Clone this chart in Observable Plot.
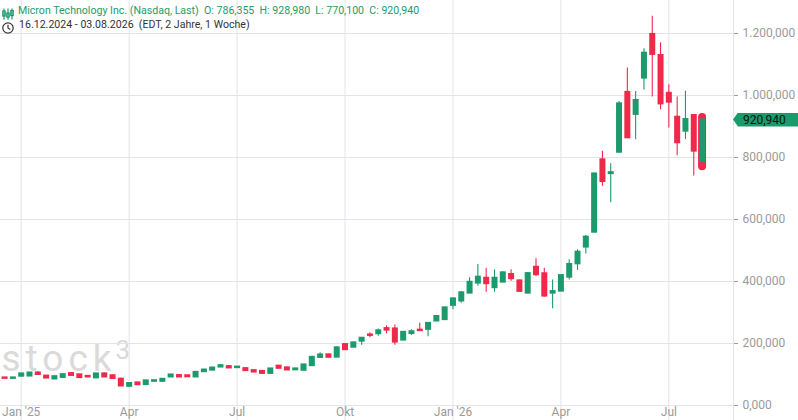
<!DOCTYPE html>
<html><head><meta charset="utf-8">
<script src="https://cdn.jsdelivr.net/npm/d3@7"></script>
<script src="https://cdn.jsdelivr.net/npm/@observablehq/plot@0.6"></script>
<style>
html,body{margin:0;padding:0;background:#fff;}
#wrap{position:relative;width:798px;height:420px;overflow:hidden;font-family:Roboto,"Noto Sans",sans-serif;}
.hl{position:absolute;white-space:pre;font-size:10.6px;line-height:14px;}
#t1{left:18px;top:4px;color:#1f9a6c;}
#t2{left:19px;top:18px;color:#333;}
.ic{position:absolute;}
#price{position:absolute;left:733px;width:65px;height:14px;background:#1b9a6b;color:#111;font-size:12px;line-height:14px;padding-left:10px;box-sizing:border-box;clip-path:polygon(0 50%,5px 0,100% 0,100% 100%,5px 100%);}
</style></head><body><div id="wrap"></div>
<script>
// ---- data (weekly candles starting Monday 16.12.2024) ----
const startDate = "2024-12-16";
const opens  = [89,87.5,94.5,95,105,95,85.5,90.5,103,99,94,89,102,96,85,62,73,67.5,78,78,92,96.5,96,92,109,114,124,125.5,122,119,112.5,110,103.5,127,121.5,115,113.5,128.5,155,163.5,156,196.5,188,207.5,227.5,231.5,248,247,211,232,243,245.5,272.5,277,323,337,362.5,395,410.5,380,398,422.5,402,362.5,446,425,362.5,369,414,457,511,559,792.5,748,817,1010,939,1056,1197,1129,1007,930,885,935.5,786.355];
const highs  = [90,90,104,106,109,96,95,101,105,100,95,103,104,98,88,73,74,81,81.5,86,100,98,97,108,116,122.5,132,127,125,120,114,111,119,129,123,120,132,157,170,165,188,199,204,219,234.5,247,257,260,238,244,265,267,289,317,346,367.5,412,455,443,437.5,431,438,404,428,473,443,405,421,470,502,548,749,820,780,981,1089,1013,1151,1256,1170,1035,995,1014,936,928.98];
const lows   = [86.5,86.5,93,94,99,87,84,89,96,89,90,88,91,86,61,58,66,66,77,77,91,91,91,91,108,113,123,120,121,111,107,102,102,118,113,114,113,128,154,154,155,178,187,194,218.5,223,231,194,209,226,241,222,271,276,309,330,361,385,365,365.5,396,401,366,360,416,349,312,367,405,435.5,489,557,707,654,815,862,857,1018,995,954,895,806,858,740,770.1];
const closes = [87.5,89,102,105,100,88.5,93,99.5,97,90,92,102,92,87,63,71,67,79.5,80,84.5,98.5,92,92.5,107,114.5,121,128.5,121,124,112.5,108,103.5,118,120,114.5,118,131,155.5,163,155.5,186,180,202,217,226,241,243,204.5,236,238,241.5,265,287,315,344,363.5,397.5,414,393,410.5,428,409,368,425.5,422,353,367.5,419,455,494.5,543,747,722.5,751,973,863.5,984,1136.5,1132.5,973,978.5,847.5,922.5,820.5,920.94];
const xTickDates  = ["2024-12-30","2025-03-31","2025-06-30","2025-09-29","2025-12-29","2026-03-30","2026-06-29"];
const xTickLabels = ["Jan '25","Apr","Jul","Okt","Jan '26","Apr","Jul"];
const yTicks = [0,200,400,600,800,1000,1200];
const titleText = "Micron Technology Inc. (Nasdaq, Last)";
const subtitleText = "16.12.2024 - 03.08.2026  (EDT, 2 Jahre, 1 Woche)";

// ---- helpers ----
const GREEN = "#1b9a6b", RED = "#f0284a", GRID = "#e3e4ea";
const de = d3.formatLocale({decimal: ",", thousands: ".", grouping: [3], currency: ["", ""]});
const fmt = de.format(",.3f");
const start = new Date(startDate);
const data = opens.map((o, i) => ({
  date: d3.utcDay.offset(start, 7 * i),
  open: o, high: highs[i], low: lows[i], close: closes[i],
  up: closes[i] >= o
}));
const last = data[data.length - 1];
const xTicks = xTickDates.map(d => new Date(d));
const labelMap = new Map(xTicks.map((d, i) => [+d, xTickLabels[i]]));
const DAY = 864e5, anchor = new Date("2024-12-30");

const chart = Plot.plot({
  width: 798, height: 420,
  marginTop: 0, marginLeft: 0, marginRight: 65, marginBottom: 15,
  style: {fontFamily: "Roboto, 'Noto Sans', sans-serif", fontSize: "12px", background: "transparent", overflow: "visible"},
  x: {type: "utc", domain: [new Date(+anchor - 17.45 * DAY), new Date(+anchor + 600.5 * DAY)]},
  y: {domain: [0, 1306.45]},
  color: {type: "identity"},
  marks: [
    Plot.text(["stock"], {frameAnchor: "bottom-left", dx: 1, dy: -35, text: d => d, fontSize: 37, fontWeight: 400, fill: "#dadada", textAnchor: "start", lineAnchor: "bottom"}),
    Plot.text(["3"], {frameAnchor: "bottom-left", dx: 115, dy: -46.5, text: d => d, fontSize: 26, fontWeight: 400, fill: "#dadada", textAnchor: "start", lineAnchor: "bottom"}),
    Plot.ruleY(yTicks, {stroke: GRID, strokeWidth: 1}),
    Plot.ruleX(xTicks, {x: d => d, stroke: GRID, strokeWidth: 1, insetBottom: -15}),
    Plot.frame({anchor: "right", stroke: GRID, insetBottom: -15}),
    Plot.axisY({anchor: "right", ticks: yTicks, tickFormat: fmt, tickSize: 4, tickPadding: 5, color: "#9a9a9a", label: null, fontSize: 12}),
    Plot.axisX({ticks: xTicks, tickFormat: d => labelMap.get(+d), tickSize: 0, tickPadding: 2, color: "#9a9a9a", label: null, fontSize: 12}),
    Plot.ruleX(data, {x: "date", y1: "low", y2: "high", stroke: d => d.up ? GREEN : RED, strokeWidth: 1.1}),
    Plot.ruleX([last], {x: "date", y1: "low", y2: "high", stroke: RED, strokeWidth: 8, strokeLinecap: "round"}),
    Plot.ruleX(data, {x: "date", y1: d => Math.max(d.open, d.close), y2: d => Math.min(d.open, d.close), stroke: d => d.up ? GREEN : RED, strokeWidth: 6, insetTop: -1, insetBottom: -1})
  ]
});

const wrap = document.getElementById("wrap");
wrap.appendChild(chart);
d3.select(chart).selectAll("text").filter(function(){ return this.textContent === "stock"; }).style("letter-spacing", "5px");

// header
const t1 = document.createElement("div");
t1.className = "hl"; t1.id = "t1";
t1.textContent = `${titleText}  O: ${fmt(last.open)}  H: ${fmt(last.high)}  L: ${fmt(last.low)}  C: ${fmt(last.close)}`;
wrap.appendChild(t1);
const t2 = document.createElement("div");
t2.className = "hl"; t2.id = "t2";
t2.textContent = subtitleText;
wrap.appendChild(t2);
const ic1 = document.createElement("div");
ic1.className = "ic"; ic1.style.left = "2px"; ic1.style.top = "5px";
ic1.innerHTML = `<svg width="12" height="12" viewBox="0 0 12 12"><g stroke="${GREEN}" fill="none" stroke-width="1.2"><line x1="2" y1="0.5" x2="2" y2="11.5"/><rect x="0.8" y="3" width="2.4" height="5"/><line x1="6" y1="0.5" x2="6" y2="11.5"/><rect x="4.8" y="5" width="2.4" height="4"/><line x1="10" y1="0.5" x2="10" y2="11.5"/><rect x="8.8" y="2.5" width="2.4" height="5"/></g></svg>`;
wrap.appendChild(ic1);
const ic2 = document.createElement("div");
ic2.className = "ic"; ic2.style.left = "2px"; ic2.style.top = "19px";
ic2.innerHTML = `<svg width="12" height="12" viewBox="0 0 12 12"><g stroke="#333" fill="none" stroke-width="1.2"><circle cx="6" cy="6" r="5.2"/><polyline points="6,2.8 6,6 8.3,7.4"/></g></svg>`;
wrap.appendChild(ic2);

// price label on the right axis
const py = chart.scale("y").apply(last.close);
const price = document.createElement("div");
price.id = "price";
price.style.top = (py - 7) + "px";
price.textContent = fmt(last.close);
wrap.appendChild(price);
</script></body></html>
